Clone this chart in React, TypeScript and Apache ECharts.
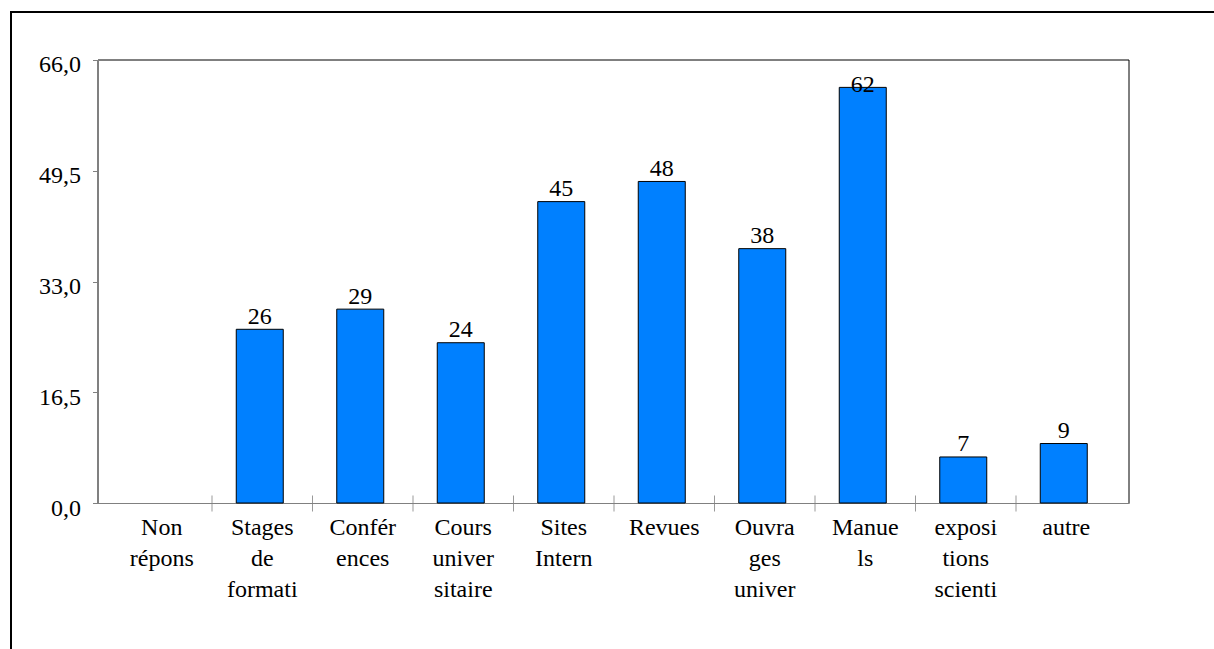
import React, { useEffect, useRef } from "react";
import * as echarts from "echarts";

const categories = [
  "Non\nrépons",
  "Stages\nde\nformati",
  "Confér\nences",
  "Cours\nuniver\nsitaire",
  "Sites\nIntern",
  "Revues",
  "Ouvra\nges\nuniver",
  "Manue\nls",
  "exposi\ntions\nscienti",
  "autre",
];
const values = [0, 26, 29, 24, 45, 48, 38, 62, 7, 9];
const yMin = 0;
const yMax = 66;
const yInterval = 16.5;

const FONT = "'Liberation Serif', 'Times New Roman', serif";

export default function App() {
  const ref = useRef<HTMLDivElement>(null);
  useEffect(() => {
    if (!ref.current) return;
    const chart = echarts.init(ref.current, null, { renderer: "svg" });
    const barData = values.map((v) =>
      v === 0
        ? "-"
        : v >= 60
        ? { value: v, label: { offset: [0, 10] } }
        : v
    );
    // category boundary ticks (between categories)
    const tickData = categories.slice(1).map((_, i) => [i + 0.5, 0]);
    chart.setOption({
      animation: false,
      backgroundColor: "#fff",
      textStyle: { fontFamily: FONT },
      graphic: [
        {
          type: "line",
          shape: { x1: 11, y1: 12, x2: 1214, y2: 12 },
          style: { stroke: "#000", lineWidth: 2 },
        },
        {
          type: "line",
          shape: { x1: 11, y1: 11, x2: 11, y2: 649 },
          style: { stroke: "#000", lineWidth: 2 },
        },
      ],
      grid: [
        {
          left: 98,
          top: 60,
          width: 1031,
          height: 443.5,
          show: true,
          borderColor: "#000",
          borderWidth: 1,
          backgroundColor: "transparent",
        },
        {
          left: 111.5,
          top: 60,
          width: 1005,
          height: 443.5,
        },
        {
          left: 109,
          top: 60,
          width: 1005,
          height: 443.5,
        },
      ],
      xAxis: [
        {
          gridIndex: 0,
          type: "value",
          min: 0,
          max: 1,
          axisLine: { show: true, lineStyle: { color: "#808080", width: 1 } },
          axisTick: { show: false },
          axisLabel: { show: false },
          splitLine: { show: false },
        },
        {
          gridIndex: 1,
          type: "category",
          data: categories,
          axisLine: { show: false },
          axisTick: { show: false },
          axisLabel: {
            interval: 0,
            color: "#000",
            fontFamily: FONT,
            fontSize: 24,
            lineHeight: 31,
            margin: 8,
          },
          splitLine: { show: false },
        },
        {
          gridIndex: 1,
          type: "value",
          min: -0.5,
          max: categories.length - 0.5,
          show: false,
        },
        {
          gridIndex: 2,
          type: "category",
          data: categories,
          show: false,
        },
      ],
      yAxis: [
        {
          gridIndex: 0,
          type: "value",
          min: yMin,
          max: yMax,
          interval: yInterval,
          axisLine: { show: true, lineStyle: { color: "#808080", width: 1 } },
          axisTick: {
            show: true,
            length: 5,
            lineStyle: { color: "#808080" },
          },
          axisLabel: {
            color: "#000",
            fontFamily: FONT,
            fontSize: 24,
            margin: 17,
            verticalAlign: "top",
            lineHeight: 8,
            formatter: (v: number) => v.toFixed(1).replace(".", ","),
          },
          splitLine: { show: false },
        },
        {
          gridIndex: 1,
          type: "value",
          min: yMin,
          max: yMax,
          interval: yInterval,
          show: false,
        },
        {
          gridIndex: 2,
          type: "value",
          min: yMin,
          max: yMax,
          interval: yInterval,
          show: false,
        },
      ],
      series: [
        {
          type: "bar",
          xAxisIndex: 3,
          yAxisIndex: 2,
          data: barData,
          barWidth: 48,
          itemStyle: {
            color: "#0080FF",
            borderColor: "#000",
            borderWidth: 1,
          },
          label: {
            show: true,
            position: "top",
            distance: 1,
            color: "#000",
            fontFamily: FONT,
            fontSize: 24,
          },
        },
        {
          type: "scatter",
          xAxisIndex: 2,
          yAxisIndex: 1,
          data: tickData,
          symbol: "rect",
          symbolSize: [1, 16],
          clip: false,
          itemStyle: { color: "#808080" },
          silent: true,
        },
      ],
    });
    return () => chart.dispose();
  }, []);
  return (
    <div
      ref={ref}
      style={{ position: "absolute", left: 0, top: 0, width: 1214, height: 649 }}
    />
  );
}
